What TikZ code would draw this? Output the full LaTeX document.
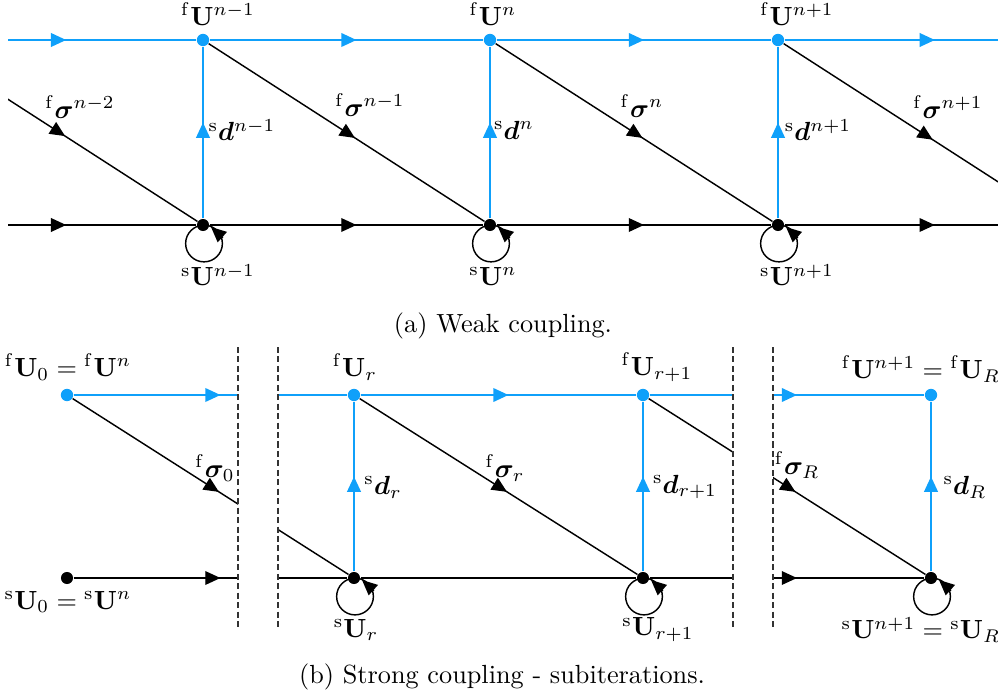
\documentclass[tikz,border=0pt]{standalone}
\usepackage{amsmath,amssymb,bm}
\usetikzlibrary{arrows.meta,decorations.markings,calc}
\definecolor{fblue}{RGB}{15,160,250}
\newcommand{\tipT}{Triangle[length=5.8pt,width=5.2pt]}
\tikzset{
  blueline/.style={draw=fblue,line width=0.7pt},
  blackline/.style={draw=black,line width=0.55pt},
  midarrow/.style={postaction={decorate,decoration={markings,
      mark=at position 0.5 with {\arrow[xshift=3.8pt]{\tipT}}}}},
  bdot/.style={circle,fill=fblue,inner sep=0pt,minimum size=4.7pt},
  kdot/.style={circle,fill=black,inner sep=0pt,minimum size=4.6pt},
  lbl/.style={inner sep=0pt,font=\normalsize},
  dashline/.style={draw=black!80,line width=0.5pt,dash pattern=on 2.3pt off 1.3pt},
}
\begin{document}
\begin{tikzpicture}[x=0.381pt,y=-0.381pt]
\useasboundingbox (0,0) rectangle (998,697);

% ---------------- (a) weak coupling ----------------
\coordinate (fStart) at (-84,40);
\coordinate (sStart) at (-84,225);
\coordinate (fEnd) at (1065,40);
\coordinate (sEnd) at (1065,225);
\node[bdot] (fA) at (203,40) {};
\node[bdot] (fB) at (490,40) {};
\node[bdot] (fC) at (778,40) {};
\node[kdot] (sA) at (203,225) {};
\node[kdot] (sB) at (490,225) {};
\node[kdot] (sC) at (778,225) {};

\begin{scope}
\clip (8,0) rectangle (998,300);
\draw[blueline,midarrow] (fStart) -- (fA);
\draw[blueline,midarrow] (fA) -- (fB);
\draw[blueline,midarrow] (fB) -- (fC);
\draw[blueline,midarrow] (fC) -- (fEnd);
\draw[blackline,midarrow] (sStart) -- (sA);
\draw[blackline,midarrow] (sA) -- (sB);
\draw[blackline,midarrow] (sB) -- (sC);
\draw[blackline,midarrow] (sC) -- (sEnd);
\draw[blackline,midarrow] (fStart) -- (sA);
\draw[blackline,midarrow] (fA) -- (sB);
\draw[blackline,midarrow] (fB) -- (sC);
\draw[blackline,midarrow] (fC) -- (sEnd);
\end{scope}
\draw[blueline,midarrow] (sA) -- (fA);
\draw[blueline,midarrow] (sB) -- (fB);
\draw[blueline,midarrow] (sC) -- (fC);

\foreach \n in {sA,sB,sC}{
  \draw[blackline] ($(\n)+(1,18.5)$) circle[radius=7pt];
  \draw[blackline,-{\tipT}] ($(\n)+(20,12.7)$) -- ($(\n)+(8,2)$);
}

\node[lbl] (lfA) at (218,14) {${}^{\mathrm{f}}\mathbf{U}^{n-1}$};
\node[lbl] (lfB) at (493,14) {${}^{\mathrm{f}}\mathbf{U}^{n}$};
\node[lbl] (lfC) at (797,14) {${}^{\mathrm{f}}\mathbf{U}^{n+1}$};
\node[lbl] (lsA) at (218,275) {${}^{\mathrm{s}}\mathbf{U}^{n-1}$};
\node[lbl] (lsB) at (493,276) {${}^{\mathrm{s}}\mathbf{U}^{n}$};
\node[lbl] (lsC) at (797,275) {${}^{\mathrm{s}}\mathbf{U}^{n+1}$};
\node[lbl] (ldA) at (242,130) {${}^{\mathrm{s}}\boldsymbol{d}^{n-1}$};
\node[lbl] (ldB) at (514,130) {${}^{\mathrm{s}}\boldsymbol{d}^{n}$};
\node[lbl] (ldC) at (818,130) {${}^{\mathrm{s}}\boldsymbol{d}^{n+1}$};
\node[lbl] (lg0) at (80,107) {${}^{\mathrm{f}}\boldsymbol{\sigma}^{n-2}$};
\node[lbl] (lg1) at (370,105) {${}^{\mathrm{f}}\boldsymbol{\sigma}^{n-1}$};
\node[lbl] (lg2) at (642,106) {${}^{\mathrm{f}}\boldsymbol{\sigma}^{n}$};
\node[lbl] (lg3) at (948,107) {${}^{\mathrm{f}}\boldsymbol{\sigma}^{n+1}$};
\node[lbl] (capa) at (503,326) {(a) Weak coupling.};

% ---------------- (b) strong coupling ----------------
\node[bdot] (f0) at (67,395) {};
\node[kdot] (s0) at (67,578) {};
\node[bdot] (fr) at (354,395) {};
\node[kdot] (sr) at (354,578) {};
\node[bdot] (fr1) at (643,395) {};
\node[kdot] (sr1) at (643,578) {};
\node[bdot] (fR) at (931,395) {};
\node[kdot] (sR) at (931,578) {};

\begin{scope}
\clip (0,340) rectangle (238,650) (278,340) rectangle (733,650) (773,340) rectangle (998,650);
\draw[blueline,midarrow] (f0) -- (fr);
\draw[blueline,midarrow] (fr) -- (fr1);
\draw[blueline,midarrow] (fr1) -- (fR);
\draw[blackline,midarrow] (s0) -- (sr);
\draw[blackline] (sr) -- (sr1);
\draw[blackline,midarrow] (sr1) -- (sR);
\draw[blackline,midarrow] (f0) -- (sr);
\draw[blackline,midarrow] (fr) -- (sr1);
\draw[blackline,midarrow] (fr1) -- (sR);
\end{scope}
\draw[blueline,midarrow] (sr) -- (fr);
\draw[blueline,midarrow] (sr1) -- (fr1);
\draw[blueline,midarrow] (sR) -- (fR);

\foreach \n in {sr,sr1,sR}{
  \draw[blackline] ($(\n)+(1,18.5)$) circle[radius=7pt];
  \draw[blackline,-{\tipT}] ($(\n)+(20,12.7)$) -- ($(\n)+(8,2)$);
}

\draw[dashline] (238,347) -- (238,630);
\draw[dashline] (278,347) -- (278,630);
\draw[dashline] (733,347) -- (733,630);
\draw[dashline] (773,347) -- (773,630);

\node[lbl] (lf0) at (68,367) {${}^{\mathrm{f}}\mathbf{U}_0={}^{\mathrm{f}}\mathbf{U}^{n}$};
\node[lbl] (ls0) at (68,602) {${}^{\mathrm{s}}\mathbf{U}_0={}^{\mathrm{s}}\mathbf{U}^{n}$};
\node[lbl] (lfr) at (355,367) {${}^{\mathrm{f}}\mathbf{U}_r$};
\node[lbl] (lfr1) at (657,367) {${}^{\mathrm{f}}\mathbf{U}_{r+1}$};
\node[lbl] (lfR) at (921,369) {${}^{\mathrm{f}}\mathbf{U}^{n+1}={}^{\mathrm{f}}\mathbf{U}_R$};
\node[lbl] (lsr) at (356,630) {${}^{\mathrm{s}}\mathbf{U}_r$};
\node[lbl] (lsr1) at (658,630) {${}^{\mathrm{s}}\mathbf{U}_{r+1}$};
\node[lbl] (lsR) at (921,630) {${}^{\mathrm{s}}\mathbf{U}^{n+1}={}^{\mathrm{s}}\mathbf{U}_R$};
\node[lbl] (lg0b) at (215,468) {${}^{\mathrm{f}}\boldsymbol{\sigma}_0$};
\node[lbl] (lgr) at (505,468) {${}^{\mathrm{f}}\boldsymbol{\sigma}_r$};
\node[lbl] (lgR) at (797,465) {${}^{\mathrm{f}}\boldsymbol{\sigma}_R$};
\node[lbl] (ldr) at (383,487) {${}^{\mathrm{s}}\boldsymbol{d}_r$};
\node[lbl] (ldr1) at (685,487) {${}^{\mathrm{s}}\boldsymbol{d}_{r+1}$};
\node[lbl] (ldR) at (965,487) {${}^{\mathrm{s}}\boldsymbol{d}_R$};
\node[lbl] (capb) at (502,677) {(b) Strong coupling - subiterations.};
\end{tikzpicture}
\end{document}
